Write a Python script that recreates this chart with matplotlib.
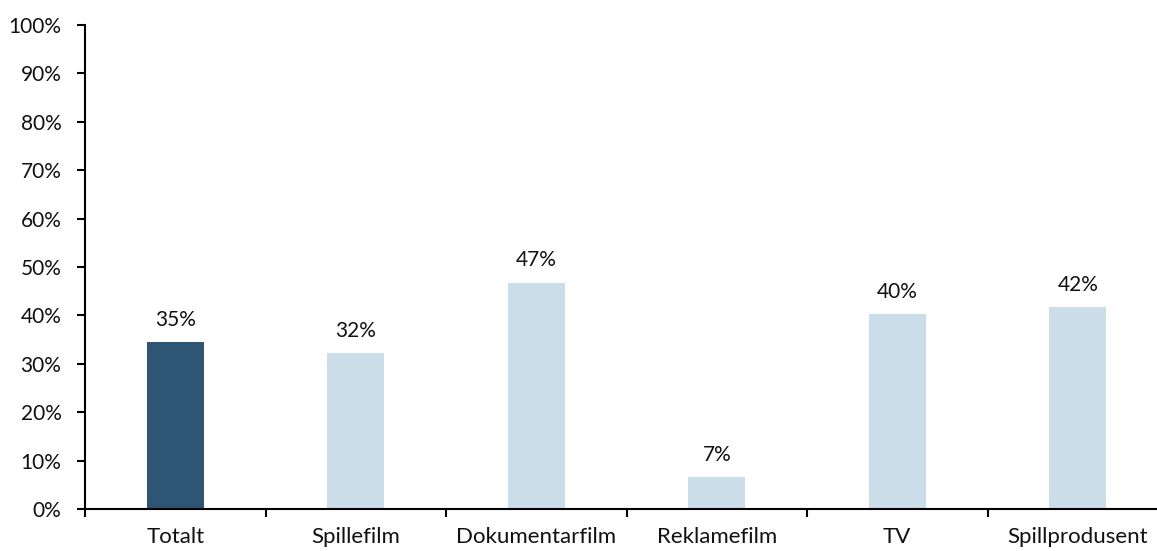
import matplotlib
matplotlib.use("Agg")
import matplotlib.pyplot as plt
from matplotlib.ticker import PercentFormatter

categories = ["Totalt", "Spillefilm", "Dokumentarfilm", "Reklamefilm", "TV", "Spillprodusent"]
values = [34.5, 32.2, 46.7, 6.6, 40.2, 41.7]
labels = ["35%", "32%", "47%", "7%", "40%", "42%"]
colors = ["#2F5574", "#CCDDEA", "#CCDDEA", "#CCDDEA", "#CCDDEA", "#CCDDEA"]

plt.rcParams["font.family"] = ["Lato", "DejaVu Sans"]

W, H = 1157, 551
fig = plt.figure(figsize=(W / 100, H / 100), dpi=100)
ax = fig.add_axes([85 / W, (H - 509) / H, 1083 / W, 484 / H])

x = list(range(len(categories)))
bars = ax.bar(x, values, width=0.315, color=colors, zorder=2)
for b, lab in zip(bars, labels):
    ax.annotate(lab, (b.get_x() + b.get_width() / 2, b.get_height()),
                xytext=(0, 9), textcoords="offset points",
                ha="center", va="bottom", fontsize=15, color="#111111")

ax.set_xlim(-0.5, len(categories) - 0.5)
ax.set_ylim(0, 100)
ax.set_yticks(range(0, 101, 10))
ax.yaxis.set_major_formatter(PercentFormatter(decimals=0))
ax.set_xticks(x)
ax.set_xticklabels(categories)
ax.set_xticks([i - 0.5 for i in range(len(categories) + 1)], minor=True)
ax.tick_params(axis="x", which="major", length=0, pad=13, labelsize=16, labelcolor="#111111")
ax.tick_params(axis="x", which="minor", length=6, width=1.5, direction="out")
ax.tick_params(axis="y", length=6, width=1.5, labelsize=15, pad=11, labelcolor="#111111")

for s in ["top", "right"]:
    ax.spines[s].set_visible(False)
for s in ["left", "bottom"]:
    ax.spines[s].set_linewidth(1.5)

fig.savefig("out.png", dpi=100)
